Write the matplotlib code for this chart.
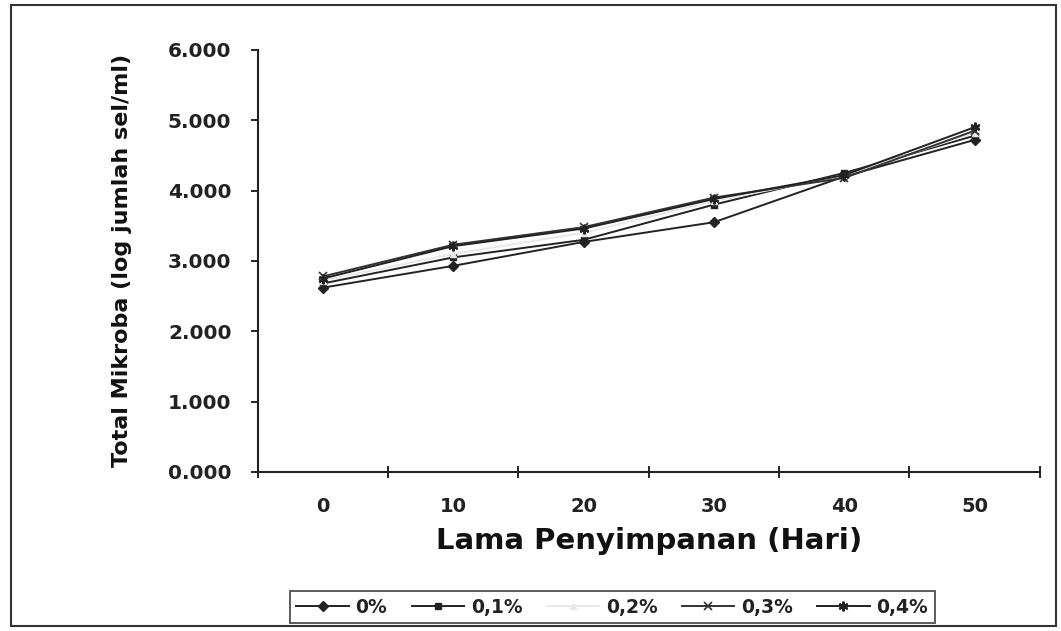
import matplotlib
matplotlib.use("Agg")
import matplotlib.pyplot as plt
from matplotlib.patches import Rectangle
import numpy as np

plt.rcParams['font.family'] = ['DejaVu Sans']

days = ["0", "10", "20", "30", "40", "50"]
series_labels = ["0%", "0,1%", "0,2%", "0,3%", "0,4%"]
v0 = [2.62, 2.93, 3.27, 3.55, 4.20, 4.72]
v01 = [2.68, 3.05, 3.30, 3.80, 4.25, 4.78]
v02 = [2.72, 3.10, 3.40, 3.85, 4.22, 4.82]
v03 = [2.78, 3.23, 3.48, 3.90, 4.18, 4.85]
v04 = [2.75, 3.21, 3.46, 3.88, 4.22, 4.90]
yticks = [0, 1, 2, 3, 4, 5, 6]
ytick_labels = ["0.000", "1.000", "2.000", "3.000", "4.000", "5.000", "6.000"]

fig = plt.figure(figsize=(10.61, 6.31), dpi=100)
ax = fig.add_axes([0.243, 0.252, 0.737, 0.669])

x = np.arange(len(days))
styles = [
    dict(color="#222222", marker="D", ms=5),
    dict(color="#222222", marker="s", ms=5),
    dict(color="#e8e8e8", marker="^", ms=5),
    dict(color="#333333", marker="x", ms=6, mew=1.2),
    dict(color="#222222", marker=(6, 2, 0), ms=7, mew=1.5),
]
for vals, lab, st in zip([v0, v01, v02, v03, v04], series_labels, styles):
    ax.plot(x, vals, lw=1.4, label=lab, **st)

ax.set_xlim(-0.5, len(days) - 0.5)
ax.set_ylim(0, 6)
ax.set_xticks(x)
ax.set_xticklabels(days, fontsize=14, fontweight="bold", color="#222222")
ax.set_xticks(np.arange(-0.5, len(days), 1.0), minor=True)
ax.tick_params(axis="x", which="major", length=0, pad=18)
ax.tick_params(axis="x", which="minor", length=8, direction="inout", width=1.2)
ax.set_yticks(yticks)
ax.set_yticklabels(ytick_labels, fontsize=14.5, fontweight="bold", color="#222222")
ax.tick_params(axis="y", length=5, direction="out", width=1.2, pad=14)

for s in ["top", "right"]:
    ax.spines[s].set_visible(False)
for s in ["left", "bottom"]:
    ax.spines[s].set_linewidth(1.5)
    ax.spines[s].set_color("#222222")

ax.set_xlabel("Lama Penyimpanan (Hari)", fontsize=21, fontweight="bold", color="#111111", labelpad=8)
ax.set_ylabel("Total Mikroba (log jumlah sel/ml)", fontsize=16, fontweight="bold", color="#111111", labelpad=26)

leg = fig.legend(loc="center", bbox_to_anchor=(0.577, 0.038), ncol=5, fontsize=13.5,
                 frameon=True, fancybox=False, edgecolor="#222222", handlelength=2.8,
                 handletextpad=0.35, columnspacing=1.3, borderpad=0.35)
leg.get_frame().set_linewidth(1.3)
for t in leg.get_texts():
    t.set_fontweight("bold")
    t.set_color("#222222")

fig.patches.append(Rectangle((0.01, 0.008), 0.985, 0.984, transform=fig.transFigure,
                             fill=False, edgecolor="#333333", lw=1.5))

fig.savefig("out.png", dpi=100)
